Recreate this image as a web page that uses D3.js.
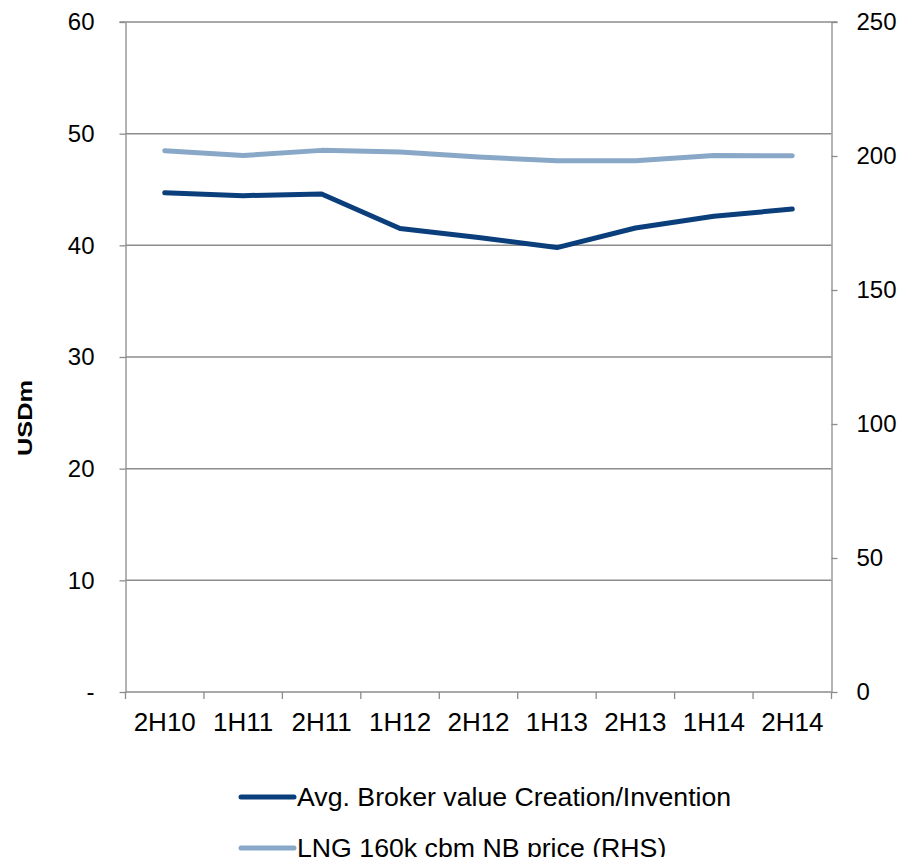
<!DOCTYPE html>
<html><head><meta charset="utf-8">
<script src="https://cdn.jsdelivr.net/npm/d3@7"></script>
<style>body{margin:0;background:#fff}svg{display:block}text{font-family:"Liberation Sans",Arial,sans-serif}</style>
</head><body><svg id="c" width="904" height="857"></svg>
<script>
const categories = ["2H10","1H11","2H11","1H12","2H12","1H13","2H13","1H14","2H14"];
const brokerValue = [44.7,44.45,44.6,41.5,40.7,39.8,41.55,42.6,43.25];
const lngPrice = [202,200.2,202.1,201.5,199.6,198.2,198.2,200.2,200.1];
const leftTicks = [0,10,20,30,40,50,60];
const rightTicks = [0,50,100,150,200,250];
const seriesNames = ["Avg. Broker value Creation/Invention","LNG 160k cbm NB price (RHS)"];
const colors = ["#0b3f7c","#89a8c7"];

const svg = d3.select("#c");
const L = 125.5, R = 831.5, T = 22, B = 692;
const x = d3.scaleBand().domain(categories).range([L, R]);
const yL = d3.scaleLinear().domain([0,60]).range([B, T]);
const yR = d3.scaleLinear().domain([0,250]).range([B, T]);
const axisCol = "#8c8c8c";

// gridlines
svg.append("g").selectAll("line").data(leftTicks.filter(d=>d>0)).join("line")
  .attr("x1", d => d === 60 ? L - 6 : L).attr("x2", d => d === 60 ? R + 6 : R)
  .attr("y1", d=>yL(d)).attr("y2", d=>yL(d))
  .attr("stroke", axisCol).attr("stroke-width", 1.5);

function styleAxis(g, fs){
  g.attr("font-size", null).attr("font-family", null);
  g.select(".domain").attr("stroke", axisCol).attr("stroke-width", 1.3);
  g.selectAll(".tick line").attr("stroke", axisCol).attr("stroke-width", 1.3);
  g.selectAll("text").attr("fill", "#000").style("font-size", fs + "px");
}
const gl = svg.append("g").attr("transform", `translate(${L},0)`)
  .call(d3.axisLeft(yL).tickValues(leftTicks).tickSize(6).tickSizeOuter(0).tickPadding(25)
    .tickFormat(d => d === 0 ? "-" : d));
styleAxis(gl, 24);
const gr = svg.append("g").attr("transform", `translate(${R},0)`)
  .call(d3.axisRight(yR).tickValues(rightTicks).tickSize(6).tickSizeOuter(0).tickPadding(19));
styleAxis(gr, 24);
const gx = svg.append("g").attr("transform", `translate(0,${B})`)
  .call(d3.axisBottom(x).tickSize(0).tickPadding(21));
styleAxis(gx, 26);
// band boundary ticks
const bounds = categories.map(c => x(c)).concat([x(categories[categories.length-1]) + x.bandwidth()]);
gx.append("g").selectAll("line").data(bounds).join("line")
  .attr("x1", d=>d).attr("x2", d=>d).attr("y1", 0).attr("y2", 7)
  .attr("stroke", axisCol).attr("stroke-width", 1.3);
gx.select(".domain").attr("d", `M${L},0H${R}`);

// lines
const cx = c => x(c) + x.bandwidth()/2;
const lineL = d3.line().x((d,i)=>cx(categories[i])).y(d=>yL(d));
const lineR = d3.line().x((d,i)=>cx(categories[i])).y(d=>yR(d));
svg.append("path").attr("d", lineR(lngPrice)).attr("fill","none").attr("stroke", colors[1])
  .attr("stroke-width", 5).attr("stroke-linejoin","round").attr("stroke-linecap","round");
svg.append("path").attr("d", lineL(brokerValue)).attr("fill","none").attr("stroke", colors[0])
  .attr("stroke-width", 5).attr("stroke-linejoin","round").attr("stroke-linecap","round");

// y title
svg.append("text").attr("transform", "translate(32,418) rotate(-90)")
  .attr("text-anchor","middle").style("font-size","20px").style("font-weight","bold")
  .attr("textLength", 76).attr("lengthAdjust", "spacingAndGlyphs").text("USDm");

// legend
const lg = svg.append("g").selectAll("g").data(seriesNames).join("g")
  .attr("transform", (d,i)=>`translate(0,${797 + i*51})`);
lg.append("line").attr("x1",241).attr("x2",294).attr("y1",0).attr("y2",0)
  .attr("stroke",(d,i)=>colors[i]).attr("stroke-width",5).attr("stroke-linecap","round");
lg.append("text").attr("x",297).attr("y",0).attr("dy","0.35em").style("font-size","26.7px").text(d=>d);
</script></body></html>
